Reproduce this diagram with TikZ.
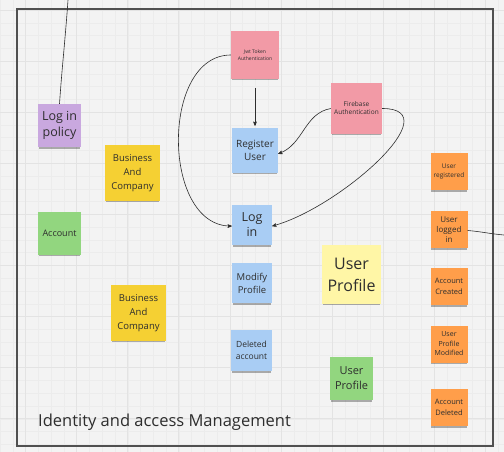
\documentclass[tikz,border=0pt]{standalone}
\usepackage{fontspec}
\setmainfont{Open Sans}
\usepackage{tikz}
\usetikzlibrary{arrows}
\usetikzlibrary{shadows}
\definecolor{boardbg}{HTML}{F3F3F3}
\definecolor{minorline}{HTML}{ECECEC}
\definecolor{majorline}{HTML}{E3E3E3}
\definecolor{framegray}{HTML}{505050}
\definecolor{inkgray}{HTML}{2E2E2E}
\definecolor{notepurple}{HTML}{C9A8DF}
\definecolor{noteyellow}{HTML}{F5D033}
\definecolor{notegreen}{HTML}{92D67F}
\definecolor{notepink}{HTML}{F29AA6}
\definecolor{noteblue}{HTML}{A9CDF4}
\definecolor{notecream}{HTML}{FFF6A6}
\definecolor{noteorange}{HTML}{FF9E4A}
\newcommand{\fsz}[2]{\fontsize{#1}{#2}\selectfont}

\begin{document}
\begin{tikzpicture}[
    x=1pt, y=1pt,
    minor grid/.style={minorline, line width=0.5pt},
    major grid/.style={majorline, line width=0.7pt},
    frame line/.style={framegray, line width=1.2pt},
    link/.style={inkgray, line width=0.6pt},
    arrow link/.style={link, -stealth'},
    note/.style={rectangle, inner sep=1pt, align=center, text=inkgray,
        drop shadow={shadow xshift=0pt, shadow yshift=-2.5pt, shadow scale=0.96,
        opacity=0.3, fill=black}},
    board title/.style={anchor=base west, inner sep=0pt, text=inkgray, font=\fsz{16.5}{20}}
    ]

    % board and grid
    \useasboundingbox (0,-452) rectangle (504,0);
    \fill[boardbg] (0,-452) rectangle (504,0);
    \foreach \i in {0,...,39}
        \draw[minor grid] ({12.775*\i},0) -- ({12.775*\i},-452);
    \foreach \i in {0,...,36}
        \draw[minor grid] (0,{2.775-12.775*\i}) -- (504,{2.775-12.775*\i});
    \foreach \i in {0,...,9}
        \draw[major grid] ({25.5+51.1*\i},0) -- ({25.5+51.1*\i},-452);
    \foreach \i in {0,...,8}
        \draw[major grid] (0,{-10-51.1*\i}) -- (504,{-10-51.1*\i});

    % frame
    \coordinate (frameNW) at (17,-9);
    \coordinate (frameSE) at (493,-446);
    \draw[frame line] (frameNW) rectangle (frameSE);
    \node[board title] (title) at (38,-426) {Identity and access Management};

    % left column
    \node[note, fill=notepurple, minimum width=43, minimum height=43, font=\fsz{12.5}{16}]
        (policy) at (59.5,-125.5) {Log in\\policy};
    \node[note, fill=noteyellow, minimum width=55, minimum height=56, font=\fsz{9.5}{14}]
        (bizA) at (132.5,-173) {Business\\And\\Company};
    \node[note, fill=notegreen, minimum width=43, minimum height=43, font=\fsz{9}{11}]
        (account) at (59.5,-233) {Account};
    \node[note, fill=noteyellow, minimum width=55, minimum height=56, font=\fsz{9.5}{14}]
        (bizB) at (138.5,-313) {Business\\And\\Company};

    % authentication
    \node[note, fill=notepink, minimum width=48, minimum height=48, font=\fsz{5}{7}]
        (jwt) at (255,-55) {Jwt Token\\Authentication};
    \node[note, fill=notepink, minimum width=51, minimum height=51, font=\fsz{6.5}{8}]
        (firebase) at (356.5,-108.5) {Firebase\\Authentication};

    % commands
    \node[note, fill=noteblue, minimum width=46, minimum height=45, font=\fsz{10}{13}]
        (register) at (255,-150.5) {Register\\User};
    \node[note, fill=noteblue, minimum width=40, minimum height=40, font=\fsz{12.5}{15}]
        (login) at (252,-225) {Log\\in};
    \node[note, fill=noteblue, minimum width=40, minimum height=40, font=\fsz{9.5}{13}]
        (modify) at (252,-283) {Modify\\Profile};
    \node[note, fill=noteblue, minimum width=41, minimum height=41, font=\fsz{8.5}{12}]
        (deleted) at (251.5,-350.5) {Deleted\\account};

    % user profile
    \node[note, fill=notecream, minimum width=59, minimum height=59, font=\fsz{16}{22}]
        (profile) at (351.5,-274.5) {User\\Profile};
    \node[note, fill=notegreen, minimum width=43, minimum height=43, font=\fsz{11}{15}]
        (profileB) at (351.5,-378.5) {User\\Profile};

    % events
    \node[note, fill=noteorange, minimum width=37, minimum height=37, font=\fsz{6.5}{8.5}]
        (registered) at (449,-171.5) {User\\registered};
    \node[note, fill=noteorange, minimum width=37, minimum height=37, font=\fsz{8}{10}]
        (logged) at (449,-229.5) {User\\logged\\in};
    \node[note, fill=noteorange, minimum width=37, minimum height=37, font=\fsz{7.5}{10.5}]
        (created) at (449,-286.5) {Account\\Created};
    \node[note, fill=noteorange, minimum width=37, minimum height=37, font=\fsz{7}{9.5}]
        (modified) at (449,-344) {User\\Profile\\Modified};
    \node[note, fill=noteorange, minimum width=37, minimum height=37, font=\fsz{7.5}{10.5}]
        (accdeleted) at (449,-407.5) {Account\\Deleted};

    % connectors
    \coordinate (topin) at (68,0);
    \coordinate (offright) at (504,-235);
    \draw[link] (topin) to[out=-94, in=86] (policy.north);
    \draw[arrow link, shorten <=9pt, shorten >=2pt] (jwt.south) -- (register.north);
    \draw[arrow link] (jwt.west) to[out=180, in=180, looseness=1.05] (login.183);
    \draw[arrow link] (firebase.west) to[out=190, in=20] (register.-8);
    \draw[arrow link] (firebase.east) to[out=0, in=15, looseness=1.1] (login.-3);
    \draw[link] (logged.-3) to[out=-5, in=175] (offright);
\end{tikzpicture}
\end{document}
